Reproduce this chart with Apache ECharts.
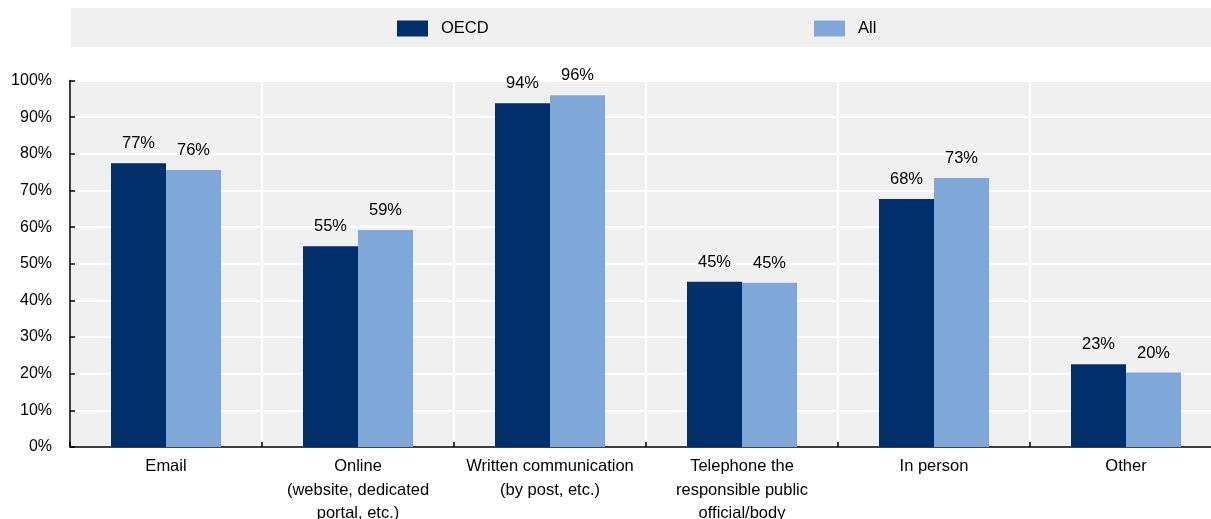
<!DOCTYPE html>
<html>
<head>
<meta charset="utf-8">
<script src="https://cdn.jsdelivr.net/npm/echarts@6/dist/echarts.min.js"></script>
<style>
html,body{margin:0;padding:0;background:#fff;}
#chart{width:1211px;height:519px;}
</style>
</head>
<body>
<div id="chart"></div>
<script>
const categories = ['Email', 'Online\n(website, dedicated\nportal, etc.)', 'Written communication\n(by post, etc.)', 'Telephone the\nresponsible public\nofficial/body', 'In person', 'Other'];
const oecdValues = [77.4, 54.8, 93.8, 45.1, 67.7, 22.6];
const allValues = [75.6, 59.2, 96.0, 44.8, 73.4, 20.3];
const yTicks = [0, 10, 20, 30, 40, 50, 60, 70, 80, 90, 100];

const FONT = '"Liberation Sans", Arial, sans-serif';
const chart = echarts.init(document.getElementById('chart'), null, {renderer: 'canvas'});

const labelOpt = {
  show: true,
  position: 'top',
  distance: 11,
  color: '#000',
  fontFamily: FONT,
  fontSize: 16.5,
  formatter: p => Math.round(p.value) + '%'
};

chart.setOption({
  animation: false,
  backgroundColor: '#fff',
  graphic: [{
    type: 'rect',
    shape: {x: 71, y: 8, width: 1140, height: 39},
    style: {fill: '#f0f0f0'},
    z: -1
  }],
  legend: [{
    data: ['OECD'],
    left: 397, top: 20,
    padding: 0,
    icon: 'rect',
    itemWidth: 31, itemHeight: 16,
    textStyle: {fontFamily: FONT, fontSize: 16.5, color: '#000', padding: [0, 0, 0, 8]}
  }, {
    data: ['All'],
    left: 814, top: 20,
    padding: 0,
    icon: 'rect',
    itemWidth: 31, itemHeight: 16,
    textStyle: {fontFamily: FONT, fontSize: 16.5, color: '#000', padding: [0, 0, 0, 8]}
  }],
  grid: {
    left: 70, right: -11, top: 80.5, bottom: 72,
    outerBoundsMode: 'none',
    containLabel: false,
    show: true, backgroundColor: '#f0f0f0', borderWidth: 0
  },
  xAxis: {
    type: 'category',
    data: categories,
    axisLine: {lineStyle: {color: '#000', width: 1.5}},
    axisTick: {show: true, inside: true, length: 5, interval: 0, lineStyle: {color: '#000', width: 1.5}},
    axisLabel: {interval: 0, color: '#000', fontFamily: FONT, fontSize: 16.5, lineHeight: 23.5, margin: 8},
    splitLine: {show: true, interval: 0, lineStyle: {color: '#fff', width: 2}}
  },
  yAxis: {
    type: 'value',
    min: yTicks[0], max: yTicks[yTicks.length - 1], interval: 10,
    axisLine: {show: true, lineStyle: {color: '#000', width: 1.5}},
    axisTick: {show: true, inside: true, length: 5, lineStyle: {color: '#000', width: 1.5}},
    axisLabel: {color: '#000', fontFamily: FONT, fontSize: 16, margin: 18, formatter: '{value}%'},
    splitLine: {show: true, lineStyle: {color: '#fff', width: 2}}
  },
  series: [{
    name: 'OECD',
    type: 'bar',
    data: oecdValues,
    barWidth: 55,
    barGap: '0%',
    itemStyle: {color: '#002f6c'},
    label: labelOpt
  }, {
    name: 'All',
    type: 'bar',
    data: allValues,
    barWidth: 55,
    barGap: '0%',
    itemStyle: {color: '#7fa8d9'},
    label: labelOpt
  }]
});
</script>
</body>
</html>
